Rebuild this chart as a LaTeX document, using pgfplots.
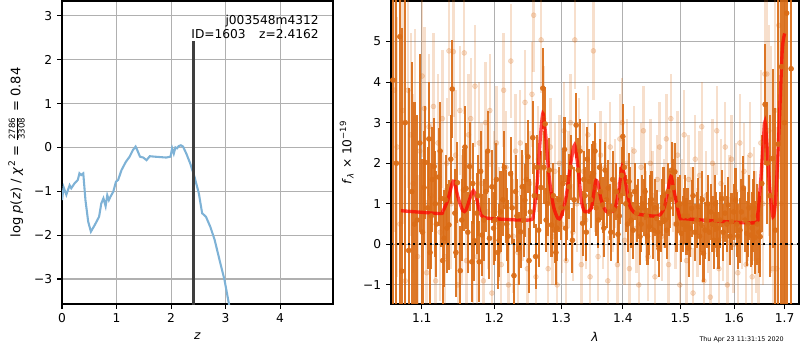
\documentclass[border=0pt]{standalone}
\usepackage{pgfplots}
\pgfplotsset{compat=1.18}
\usepackage{pgfplotstable}
\usepackage{fontspec}
\setmainfont{DejaVu Sans}
\definecolor{dorange}{RGB}{218,108,22}
\definecolor{pzblue}{RGB}{126,178,214}
\definecolor{gridgray}{RGB}{176,176,176}
\definecolor{zbar}{RGB}{62,62,62}

\pgfplotstableread{
l f e
1.0625 4.05 9.0
1.0670 2.0 8.0
1.0715 5.12 7.0
1.0740 -0.66 6.0
1.0785 3.0 5.0
1.0830 -0.15 4.0
1.0870 1.30 3.2
1.0905 0.50 3.0
1.0940 0.60 2.6
1.0975 2.5 2.2
1.1010 0.3 1.8
1.1048 2.02 1.4
1.1080 0.9 1.5
1.1110 -0.2 1.4
1.1140 1.6 1.3
1.1165 1.92 1.2
1.1195 0.5 1.3
1.1226 1.66 1.2
1.1260 1.13 1.2
1.1300 0.15 1.2
1.1336 0.40 1.1
1.1365 0.48 1.1
1.1410 3.83 1.2
1.1446 0.77 1.1
1.1480 1.52 1.0
1.1520 -0.65 1.1
1.1565 1.34 1.0
1.1600 1.38 1.0
1.1650 1.92 1.1
1.1680 -0.43 1.0
1.1715 0.09 1.0
1.1750 0.77 1.0
1.1785 -0.43 1.0
1.1825 0.23 1.0
1.1879 1.30 1.0
1.1930 0.15 1.0
1.1966 1.42 0.9
1.2010 0.6 1.0
1.2050 -0.2 0.9
1.2089 0.80 1.0
1.2125 1.1 0.9
1.2163 0.93 0.9
1.2200 0.2 0.9
1.2236 1.74 0.9
1.2286 -0.77 0.9
1.2330 0.7 0.9
1.2384 0.31 0.9
1.2409 1.42 0.9
1.2448 1.09 0.9
1.2493 2.16 0.9
1.2530 0.8 0.8
1.2567 2.63 0.9
1.2610 -0.3 0.8
1.2655 0.35 0.9
1.2719 3.85 1.0
1.2754 2.97 0.9
1.2790 1.0 0.8
1.2818 1.83 0.8
1.2852 0.48 0.8
1.2901 0.35 0.8
1.2936 0.40 0.8
1.2970 1.1 0.8
1.3054 2.34 0.8
1.3090 0.9 0.8
1.3125 1.42 0.8
1.3179 0.10 0.8
1.3238 2.94 0.8
1.3271 1.83 0.8
1.3341 0.52 0.8
1.3380 1.2 0.7
1.3417 2.10 0.8
1.3450 1.55 0.8
1.3488 1.67 0.8
1.3515 1.75 0.8
1.3560 0.9 0.7
1.3596 0.60 0.7
1.3630 1.3 0.7
1.3666 0.97 0.7
1.3704 1.83 0.7
1.3757 1.39 0.7
1.3800 0.3 0.7
1.3854 0.85 0.7
1.3919 0.25 0.7
1.3960 1.2 0.7
1.4000 2.66 0.8
1.4050 1.0 0.7
1.4105 1.55 0.7
1.4140 0.6 0.7
1.4174 0.35 0.7
1.4233 0.77 0.7
1.4291 0.19 0.7
1.4330 1.0 0.7
1.4378 1.30 0.7
1.4420 0.2 0.7
1.4453 0.44 0.7
1.4490 1.1 0.7
1.4523 0.35 0.7
1.4581 0.64 0.7
1.4620 -0.1 0.7
1.4651 0.52 0.7
1.4700 1.2 0.7
1.4756 0.35 0.7
1.4800 0.9 0.7
1.4843 1.83 0.7
1.4901 1.79 0.7
1.4959 0.97 0.7
1.5019 0.27 0.7
1.5060 0.7 0.7
1.5111 0.44 0.7
1.5150 -0.1 0.7
1.5204 0.89 0.7
1.5260 0.3 0.7
1.5329 0.93 0.7
1.5380 0.5 0.7
1.5422 -0.22 0.7
1.5453 0.35 0.7
1.5500 1.0 0.7
1.5559 0.80 0.7
1.5621 0.10 0.7
1.5660 0.6 0.7
1.5702 0.10 0.7
1.5764 1.13 0.7
1.5826 0.77 0.7
1.5888 0.97 0.7
1.5950 0.56 0.7
1.6026 1.09 0.8
1.6070 0.2 0.8
1.6112 0.35 0.8
1.6178 1.39 0.8
1.6243 0.27 0.8
1.6290 0.9 0.8
1.6322 0.23 0.8
1.6370 0.7 0.9
1.6408 0.17 0.9
1.6450 0.5 1.0
1.6507 0.19 1.0
1.6540 1.50 1.2
1.6605 3.45 1.5
1.6650 2.0 1.5
1.6700 1.2 2.0
1.6757 2.12 2.2
1.6810 0.35 3.0
1.6868 2.47 4.5
1.6934 4.38 6.5
1.6995 3.0 7.5
1.7040 5.70 8.0
1.7132 4.33 10.0
1.1030 1.4 1.4
1.1095 2.6 1.4
1.1125 0.7 1.3
1.1180 1.0 1.3
1.1245 2.3 1.2
1.1280 -0.4 1.2
1.1320 1.1 1.1
1.1390 2.1 1.1
1.1460 -0.2 1.1
1.1540 0.6 1.0
1.1585 2.4 1.0
1.1625 0.3 1.0
1.1695 1.5 1.0
1.1765 1.2 1.0
1.1805 1.8 1.0
1.1850 0.6 1.0
1.1905 2.3 1.0
1.1990 0.4 0.9
1.2030 1.6 0.9
1.2070 0.1 0.9
1.2145 1.9 0.9
1.2180 0.5 0.9
1.2260 0.9 0.9
1.2310 1.3 0.9
1.2360 -0.1 0.9
1.2430 0.6 0.9
1.2470 1.6 0.9
1.2510 -0.4 0.8
1.2590 1.2 0.8
1.2635 1.9 0.8
1.2690 1.4 0.9
1.2735 1.9 0.9
1.2770 0.6 0.8
1.2880 1.2 0.8
1.2920 -0.2 0.8
1.3000 0.9 0.8
1.3030 1.5 0.8
1.3070 0.4 0.8
1.3150 1.9 0.8
1.3205 1.1 0.8
1.3300 2.3 0.8
1.3360 1.6 0.7
1.3400 0.3 0.7
1.3470 1.1 0.7
1.3540 2.3 0.7
1.3615 1.9 0.7
1.3685 0.4 0.7
1.3730 1.1 0.7
1.3780 0.8 0.7
1.3830 1.6 0.7
1.3890 1.3 0.7
1.3940 0.7 0.7
1.3980 1.7 0.7
1.4025 1.9 0.7
1.4080 0.5 0.7
1.4120 1.2 0.7
1.4200 1.3 0.7
1.4260 0.9 0.7
1.4310 0.5 0.7
1.4355 0.9 0.7
1.4400 0.7 0.7
1.4470 1.0 0.7
1.4550 0.9 0.7
1.4600 0.3 0.7
1.4680 0.9 0.7
1.4730 0.6 0.7
1.4780 1.3 0.7
1.4820 1.1 0.7
1.4870 1.4 0.7
1.4930 0.5 0.7
1.4990 1.0 0.7
1.5040 0.5 0.7
1.5085 1.0 0.7
1.5130 0.7 0.7
1.5180 0.4 0.7
1.5230 1.2 0.7
1.5300 0.6 0.7
1.5350 0.2 0.7
1.5400 1.1 0.7
1.5480 0.6 0.7
1.5530 0.3 0.7
1.5590 0.5 0.7
1.5640 1.0 0.7
1.5680 0.4 0.7
1.5730 0.6 0.7
1.5790 0.3 0.7
1.5860 0.5 0.7
1.5920 0.2 0.7
1.5990 0.8 0.7
1.6050 0.5 0.8
1.6140 0.8 0.8
1.6210 0.6 0.8
1.6265 0.5 0.8
1.6350 0.4 0.9
1.6390 0.9 0.9
1.6480 0.3 1.0
}\darkdata

\pgfplotstableread{
l f e
1.0645 3.8 3.5
1.0680 2.4 3.2
1.0715 0.5 3.0
1.0750 3.3 2.8
1.0785 -0.9 2.6
1.0820 3.8 2.4
1.0855 2.7 2.5
1.0885 1.5 2.2
1.0915 3.1 2.2
1.0945 -0.3 2.0
1.0975 2.3 2.0
1.1005 4.15 2.0
1.1035 3.35 2.0
1.1065 -0.7 1.8
1.1095 2.9 1.8
1.1125 1.2 1.8
1.1155 3.4 1.8
1.1185 -0.9 1.7
1.1215 2.5 1.7
1.1245 0.3 1.7
1.1275 3.1 1.7
1.1305 -0.3 1.7
1.1335 2.0 1.6
1.1365 4.77 1.6
1.1395 1.0 1.6
1.1425 4.75 1.6
1.1455 2.2 1.6
1.1485 -1.0 1.6
1.1515 3.3 1.6
1.1545 0.6 1.6
1.1575 4.72 1.5
1.1605 -0.4 1.5
1.1635 2.7 1.5
1.1665 3.1 1.5
1.1695 0.0 1.5
1.1725 3.9 1.5
1.1755 -0.3 1.5
1.1785 2.5 1.5
1.1815 1.5 1.5
1.1845 -0.9 1.5
1.1875 3.0 1.5
1.1905 0.8 1.4
1.1935 3.3 1.4
1.1965 -1.2 1.4
1.1995 1.4 1.4
1.2030 2.5 1.4
1.2065 0.5 1.4
1.2100 -0.5 1.4
1.2135 3.8 1.4
1.2170 1.9 1.4
1.2205 -1.0 1.4
1.2240 4.52 1.4
1.2275 0.2 1.4
1.2310 2.3 1.4
1.2345 -0.2 1.4
1.2380 2.5 1.3
1.2415 0.9 1.3
1.2450 3.5 1.3
1.2485 -0.6 1.3
1.2520 1.5 1.3
1.2555 3.7 1.3
1.2580 5.65 1.4
1.2615 -0.8 1.3
1.2650 2.1 1.3
1.2693 5.04 1.3
1.2730 3.1 1.3
1.2765 1.3 1.3
1.2800 -0.6 1.2
1.2835 2.4 1.2
1.2870 0.2 1.2
1.2905 1.8 1.2
1.2940 -1.0 1.2
1.2975 2.0 1.2
1.3010 0.5 1.2
1.3045 2.8 1.2
1.3080 -0.4 1.2
1.3115 1.6 1.2
1.3150 3.0 1.2
1.3185 0.3 1.2
1.3216 5.04 1.2
1.3250 1.0 1.2
1.3285 2.4 1.2
1.3320 -0.5 1.2
1.3355 1.8 1.2
1.3390 0.6 1.2
1.3425 2.7 1.2
1.3460 -0.8 1.2
1.3514 4.77 1.2
1.3550 1.4 1.1
1.3590 -0.3 1.1
1.3630 2.2 1.1
1.3670 0.5 1.1
1.3710 1.9 1.1
1.3750 -0.9 1.1
1.3790 2.4 1.1
1.3830 0.9 1.1
1.3870 1.5 1.1
1.3910 -0.5 1.1
1.3950 2.6 1.1
1.3990 3.0 1.1
1.4030 0.1 1.1
1.4070 2.0 1.1
1.4110 -0.6 1.1
1.4150 1.3 1.1
1.4190 2.3 1.1
1.4230 0.4 1.1
1.4270 -1.0 1.1
1.4310 1.9 1.1
1.4350 2.8 1.1
1.4390 0.7 1.1
1.4430 -0.3 1.1
1.4470 2.0 1.1
1.4510 1.2 1.1
1.4550 -0.8 1.1
1.4590 1.6 1.1
1.4630 2.4 1.1
1.4670 0.2 1.1
1.4710 1.0 1.1
1.4750 2.6 1.1
1.4790 -0.5 1.1
1.4830 3.1 1.1
1.4870 1.4 1.1
1.4910 0.5 1.1
1.4950 2.2 1.1
1.4990 -1.0 1.1
1.5030 1.0 1.1
1.5070 2.7 1.1
1.5110 -0.4 1.1
1.5150 1.6 1.1
1.5190 0.8 1.1
1.5230 -1.2 1.1
1.5270 2.1 1.1
1.5310 0.3 1.1
1.5350 1.7 1.1
1.5390 2.9 1.1
1.5430 -0.9 1.1
1.5470 1.2 1.1
1.5510 0.4 1.1
1.5550 -1.3 1.1
1.5590 2.0 1.1
1.5630 0.9 1.1
1.5670 2.8 1.1
1.5710 -0.6 1.1
1.5750 1.5 1.1
1.5790 0.2 1.1
1.5830 2.4 1.1
1.5870 -1.0 1.1
1.5910 1.1 1.1
1.5950 2.1 1.1
1.5990 0.0 1.2
1.6030 1.3 1.2
1.6070 -0.7 1.2
1.6110 2.5 1.2
1.6150 0.6 1.2
1.6190 1.8 1.2
1.6230 -0.5 1.2
1.6270 0.9 1.3
1.6310 2.2 1.3
1.6350 -0.8 1.3
1.6390 1.0 1.4
1.6430 0.3 1.5
1.6470 -0.4 1.6
1.6520 2.5 1.8
1.6560 1.0 2.0
1.6600 4.2 2.2
1.6640 4.2 2.4
1.6680 2.8 2.6
1.6720 2.1 2.8
1.6760 -0.6 3.0
1.6800 3.3 3.2
1.6840 -0.6 3.5
1.6880 5.4 3.8
1.6920 1.0 4.0
}\lightdata

\pgfplotsset{mpl/.style={
  scale only axis, anchor=south west,
  axis line style={line width=0.8pt},
  grid=major, grid style={gridgray, line width=0.8pt},
  tick align=outside, tick pos=left,
  major tick length=3.5pt,
  every tick/.style={black, line width=0.8pt},
  ticklabel style={font=\fontsize{8.8}{10}\selectfont},
  label style={font=\fontsize{8.8}{10}\selectfont},
  /pgf/number format/assume math mode=true,
}}

\begin{document}
\begin{tikzpicture}
\path[use as bounding box] (0,0) rectangle (576pt,252pt);

\begin{axis}[mpl, at={(44.64pt,33.12pt)}, width=195.12pt, height=218.16pt,
  xmin=0, xmax=4.97, ymin=-3.57, ymax=3.34,
  xtick={0,1,2,3,4}, ytick={-3,-2,-1,0,1,2,3},
  yticklabels={−3,−2,−1,0,1,2,3},
  xlabel={\textit{z}},
  ylabel={\fontsize{9.4}{10}\selectfont log \textit{p}(\textit{z}) / \textit{χ}\textsuperscript{2} = $\frac{\hbox{\fontsize{6.2}{6.2}\selectfont 2786}}{\hbox{\fontsize{6.2}{6.2}\selectfont 3308}}$ = 0.84}]
\addplot[pzblue, line width=1.5pt] coordinates {
(0,-1.2) (0.03,-0.91) (0.08,-1.08) (0.14,-0.86) (0.17,-0.93) (0.23,-0.82)
(0.29,-0.74) (0.32,-0.59) (0.35,-0.63) (0.39,-0.59) (0.43,-1.2) (0.48,-1.69)
(0.53,-1.92) (0.60,-1.77) (0.68,-1.58) (0.72,-1.28) (0.76,-1.16) (0.80,-1.34)
(0.83,-1.09) (0.86,-1.2) (0.89,-1.12) (0.94,-1.01) (0.99,-0.78) (1.03,-0.74)
(1.09,-0.52) (1.17,-0.33) (1.24,-0.21) (1.30,-0.06) (1.35,0.02) (1.38,-0.06)
(1.43,-0.21) (1.49,-0.23) (1.55,-0.29) (1.61,-0.20) (1.70,-0.21) (1.91,-0.23)
(1.99,-0.21) (2.02,-0.02) (2.05,-0.14) (2.08,0.0) (2.11,-0.02) (2.14,0.03)
(2.18,0.05) (2.22,0.02) (2.28,-0.14) (2.35,-0.36) (2.43,-0.67) (2.51,-1.05)
(2.57,-1.5) (2.64,-1.58) (2.72,-1.81) (2.80,-2.11) (2.89,-2.57) (2.98,-3.02)
(3.06,-3.56) (3.10,-3.8)};
\addplot[zbar, line width=2.2pt] coordinates {(2.4162,-4) (2.4162,2.43)};
\node[anchor=base east, inner sep=0pt, font=\fontsize{8.8}{10}\selectfont] at (rel axis cs:0.948,0.924) {j003548m4312};
\node[anchor=base east, inner sep=0pt, font=\fontsize{8.8}{10}\selectfont] at (rel axis cs:0.948,0.877) {ID=1603\hspace{1.1em}z=2.4162};
\end{axis}

\begin{axis}[mpl, at={(281.52pt,33.12pt)}, width=293.76pt, height=218.16pt,
  xmode=log, xmin=1.0602, xmax=1.7294, ymin=-1.47, ymax=6.0,
  xtick={1.1,1.2,1.3,1.4,1.5,1.6,1.7},
  xticklabels={1.1,1.2,1.3,1.4,1.5,1.6,1.7},
  minor xtick={},
  ytick={-1,0,1,2,3,4,5},
  yticklabels={−1,0,1,2,3,4,5},
  xlabel={\textit{λ}},
  ylabel={\textit{f}\textsubscript{\textit{λ}} × 10\textsuperscript{−19}}]
\addplot[only marks, dorange, mark=*, mark size=1.8pt, opacity=0.22,
  error bars/.cd, y dir=both, y explicit, error mark=none,
  error bar style={line width=1.7pt, dorange, opacity=0.22}]
  table[x=l, y=f, y error=e] {\lightdata};
\addplot[only marks, dorange, mark=*, mark size=1.8pt, opacity=0.92,
  error bars/.cd, y dir=both, y explicit, error mark=none,
  error bar style={line width=1.5pt, dorange, opacity=0.92}]
  table[x=l, y=f, y error=e] {\darkdata};
\addplot[red, opacity=0.72, line width=2.4pt, smooth, tension=0.4] coordinates {
(1.073,0.83) (1.1236,0.76) (1.128,0.81) (1.1349,1.09) (1.1408,1.50) (1.144,1.55)
(1.1486,1.18) (1.1555,0.83) (1.160,0.85) (1.167,1.22) (1.1704,1.32) (1.174,1.18)
(1.1812,0.72) (1.193,0.64) (1.2517,0.60) (1.2577,0.76) (1.2628,1.42) (1.2678,2.57)
(1.2719,3.23) (1.276,2.74) (1.2821,1.59) (1.2883,0.93) (1.2950,0.64) (1.3001,0.68)
(1.308,1.18) (1.316,2.08) (1.3213,2.45) (1.3266,1.92) (1.3319,1.09) (1.3373,0.81)
(1.348,0.89) (1.3550,1.55) (1.3588,1.50) (1.3642,1.09) (1.3724,0.81) (1.386,0.85)
(1.3933,1.34) (1.3989,1.92) (1.4045,1.55) (1.4113,0.97) (1.4226,0.76) (1.4601,0.70)
(1.4718,0.93) (1.4807,1.55) (1.4837,1.67) (1.4896,1.26) (1.4986,0.68) (1.5106,0.63)
(1.6364,0.53) (1.6462,0.76) (1.6528,1.75) (1.6594,2.99) (1.6627,2.74) (1.6694,1.42)
(1.6761,0.68) (1.6815,1.09) (1.6882,2.74) (1.6950,4.79) (1.7000,5.2)};
\addplot[black, line width=1.5pt, dash pattern=on 1.5pt off 2.5pt] coordinates {(1.0602,0) (1.7294,0)};
\end{axis}

\node[font=\fontsize{4.6}{5}\selectfont] at (534pt,7.4pt) {Thu Apr 23 11:31:15 2020};
\end{tikzpicture}
\end{document}
